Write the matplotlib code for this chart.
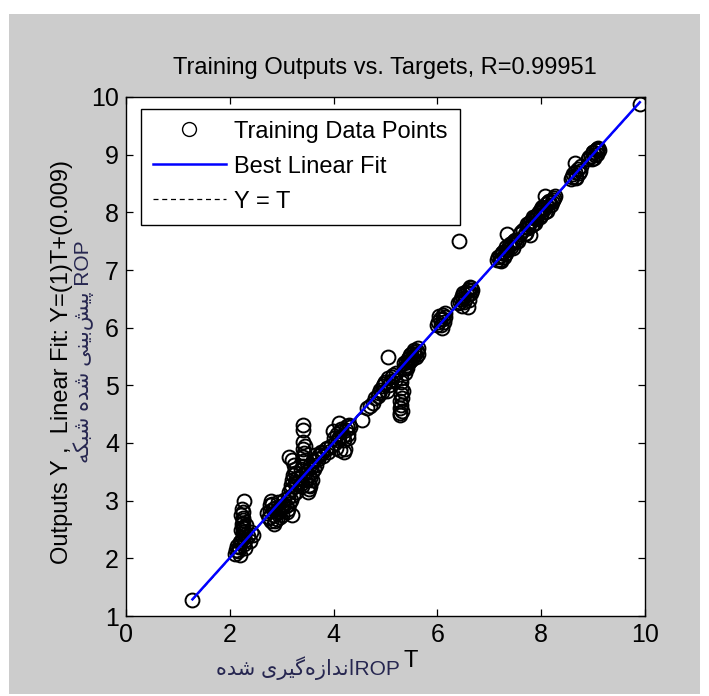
import numpy as np
import matplotlib
matplotlib.use('Agg')
from matplotlib import pyplot as plt
from matplotlib.patches import Rectangle

plt.rcParams['font.family'] = ['Liberation Sans', 'DejaVu Sans']

# training targets (T) and network outputs (Y)
targets = [1.28,
           2.10, 2.12, 2.15, 2.18, 2.20, 2.22, 2.25, 2.25, 2.25, 2.25, 2.25, 2.25, 2.28, 2.28, 2.30, 2.30, 2.35, 2.40, 2.45, 2.27,
           2.22, 2.24, 2.26, 2.22, 2.26, 2.24, 2.20, 2.32, 2.14, 2.38,
           2.75, 2.78, 2.80, 2.82, 2.85, 2.88, 2.90, 2.92, 2.95, 2.98, 3.00, 2.80, 2.85,
           2.72, 2.76, 2.84, 2.87, 2.93, 2.96, 3.02, 3.05, 2.78, 2.90,
           3.10, 3.12, 3.15, 3.18, 3.20, 3.20, 3.22, 3.25, 3.25, 3.28, 3.30, 3.20, 3.15,
           3.08, 3.14, 3.17, 3.22, 3.27, 3.18, 3.24, 3.12, 3.30, 3.26,
           3.40, 3.42, 3.42, 3.42, 3.42, 3.42, 3.42, 3.45, 3.40, 3.38,
           3.41, 3.43, 3.44, 3.36, 3.46, 3.39,
           3.50, 3.52, 3.55, 3.55, 3.58, 3.60, 3.62, 3.65, 3.70, 3.55, 3.75, 3.80, 3.85, 3.90,
           3.48, 3.53, 3.57, 3.63, 3.67, 3.72, 3.78, 3.52, 3.58, 3.88,
           3.98, 4.02, 4.05, 4.10, 4.12, 4.15, 4.20, 4.22, 4.25, 4.28, 4.30, 4.20, 4.10,
           3.95, 4.00, 4.08, 4.14, 4.18, 4.24, 4.27, 4.32, 4.06,
           4.55, 4.65, 4.75, 4.70, 4.80,
           4.85, 4.90, 4.95, 5.00, 5.02, 5.05, 5.10, 5.15, 5.05,
           4.88, 4.93, 4.98, 5.07, 5.12, 5.18, 5.20,
           5.28, 5.28, 5.28, 5.30, 5.30, 5.30, 5.32,
           5.29, 5.31, 5.27, 5.33, 5.30,
           5.35, 5.38, 5.40, 5.42, 5.45, 5.48, 5.50, 5.52, 5.55, 5.58, 5.60, 5.62,
           5.36, 5.41, 5.44, 5.47, 5.51, 5.54, 5.57, 5.63, 5.39, 5.46,
           6.00, 6.05, 6.08, 6.10, 6.12, 6.15,
           6.02, 6.06, 6.11, 6.14, 6.03,
           6.40, 6.45, 6.48, 6.50, 6.55, 6.58, 6.60, 6.62, 6.65, 6.58, 6.42,
           6.43, 6.47, 6.52, 6.56, 6.61, 6.64, 6.67, 6.49,
           7.15, 7.20, 7.22, 7.25, 7.30, 7.32, 7.35, 7.40, 7.45, 7.50, 7.55, 7.35,
           7.17, 7.21, 7.27, 7.33, 7.38, 7.42, 7.47, 7.52, 7.28, 7.44,
           7.60, 7.65, 7.70, 7.72, 7.75, 7.80, 7.82, 7.85, 7.90, 7.95, 8.00, 8.02, 8.05, 8.10, 8.12, 8.15, 8.20, 8.25, 7.78, 8.08,
           7.62, 7.68, 7.74, 7.77, 7.84, 7.87, 7.92, 7.97, 8.03, 8.07, 8.14, 8.18, 8.23, 8.27, 7.88, 8.00,
           8.60, 8.65, 8.68, 8.70, 8.75, 8.65,
           8.58, 8.62, 8.72, 8.77, 8.67,
           8.90, 8.95, 9.00, 9.02, 9.05, 9.08, 9.10,
           8.92, 8.97, 9.04, 9.07, 9.12, 8.99,
           9.90]
outputs = [1.28,
           2.08, 2.15, 2.12, 2.20, 2.05, 2.30, 2.35, 2.45, 2.55, 2.62, 2.70, 2.80, 2.25, 2.40, 2.18, 2.32, 2.38, 2.45, 2.40, 3.00,
           2.50, 2.60, 2.66, 2.75, 2.52, 2.85, 2.28, 2.58, 2.22, 2.30,
           2.70, 2.82, 2.65, 2.95, 2.75, 2.88, 2.68, 2.98, 2.80, 2.90, 2.75, 3.00, 2.60,
           2.78, 2.72, 2.86, 2.64, 2.85, 2.72, 2.90, 3.02, 2.92, 2.82,
           2.80, 3.05, 2.95, 3.20, 3.35, 3.70, 3.10, 3.30, 3.55, 3.25, 3.40, 2.75, 3.75,
           2.90, 3.15, 3.02, 3.45, 3.15, 3.28, 3.62, 2.85, 3.30, 3.48,
           3.45, 3.60, 3.75, 3.90, 4.02, 4.22, 4.32, 3.35, 3.30, 3.55,
           3.68, 3.82, 3.95, 3.40, 3.50, 3.25,
           3.15, 3.28, 3.40, 3.62, 3.50, 3.70, 3.55, 3.80, 3.72, 3.25, 3.85, 3.78, 3.90, 3.85,
           3.38, 3.45, 3.58, 3.68, 3.62, 3.80, 3.82, 3.20, 3.35, 3.92,
           4.20, 4.00, 3.92, 4.10, 3.88, 4.25, 4.05, 3.90, 4.30, 4.15, 4.32, 3.85, 4.35,
           3.95, 4.08, 4.05, 4.20, 4.12, 4.22, 4.08, 4.28, 4.15,
           4.40, 4.60, 4.70, 4.65, 4.78,
           4.82, 4.92, 4.98, 5.05, 4.90, 5.12, 5.08, 5.18, 5.50,
           4.86, 4.88, 5.02, 5.00, 5.15, 5.10, 5.22,
           4.48, 4.60, 4.72, 4.85, 4.95, 5.05, 4.55,
           4.66, 4.78, 4.52, 4.90, 5.12,
           5.30, 5.22, 5.40, 5.35, 5.48, 5.42, 5.55, 5.45, 5.58, 5.50, 5.60, 5.55,
           5.38, 5.30, 5.45, 5.52, 5.48, 5.62, 5.55, 5.65, 5.32, 5.40,
           6.05, 6.15, 6.00, 6.22, 6.10, 6.25,
           6.10, 6.05, 6.15, 6.18, 6.20,
           6.42, 6.50, 6.38, 6.60, 6.52, 6.65, 6.48, 6.70, 6.60, 6.36, 7.50,
           6.45, 6.55, 6.45, 6.62, 6.58, 6.68, 6.66, 6.52,
           7.18, 7.25, 7.15, 7.30, 7.28, 7.40, 7.35, 7.45, 7.38, 7.52, 7.50, 7.62,
           7.22, 7.18, 7.32, 7.30, 7.42, 7.40, 7.50, 7.48, 7.22, 7.46,
           7.62, 7.70, 7.65, 7.80, 7.75, 7.85, 7.78, 7.92, 7.88, 8.00, 7.95, 8.10, 8.05, 8.15, 8.02, 8.20, 8.18, 8.25, 7.60, 8.28,
           7.66, 7.62, 7.72, 7.82, 7.80, 7.90, 7.95, 7.92, 8.08, 8.00, 8.18, 8.12, 8.22, 8.28, 7.82, 8.05,
           8.62, 8.70, 8.60, 8.75, 8.72, 8.85,
           8.58, 8.66, 8.68, 8.80, 8.62,
           8.92, 8.98, 9.05, 8.95, 9.08, 9.02, 9.12,
           8.96, 8.92, 9.00, 9.10, 9.08, 9.05,
           9.88]

slope = 1.0
intercept = 0.009
R = 0.99951

xticks = [0, 2, 4, 6, 8, 10]
yticks = [1, 2, 3, 4, 5, 6, 7, 8, 9, 10]

# persian labels in visual order (presentation forms)
ylabel_fa = '\ufeea\ufb91\ufe92\ufeb7 \ufee9\ufeaa\ufeb7 \ufbfd\ufee8\ufbff\ufe91\ufeb6\ufbff\ufb58 ROP'
xlabel_fa = '\ufee9\ufeaa\ufeb7 \ufbfc\ufeae\ufbff\ufb94\ufee9\ufeaf\ufe8d\ufeaa\ufee7\ufe8dROP'

W, H = 709, 696
fig = plt.figure(figsize=(W / 100, H / 100), dpi=100, facecolor='white')
fig.patches.append(Rectangle((9 / W, 1 - 694 / H), 691 / W, 680 / H,
                             transform=fig.transFigure, facecolor='#cccccc',
                             edgecolor='none', zorder=-10))

ax = fig.add_axes([126 / W, 1 - 616 / H, 519 / W, 519 / H])
ax.set_facecolor('white')

t = np.array(targets)
y = np.array(outputs)
ax.plot(t, y, 'o', mfc='none', mec='black', ms=10, mew=1.4, label='Training Data Points', zorder=3)
tfit = np.array([t.min(), t.max()])
ax.plot(tfit, slope * tfit + intercept, color='#0000ff', lw=1.8, label='Best Linear Fit', zorder=4)
ax.plot(tfit, tfit, color='black', lw=0.9, ls=(0, (4, 3)), label='Y = T', zorder=2)

ax.set_xlim(0, 10)
ax.set_ylim(1, 10)
ax.set_xticks(xticks)
ax.set_yticks(yticks)
ax.tick_params(direction='in', top=True, right=True, length=5, width=0.9,
               labelsize=18, pad=5)
for s in ax.spines.values():
    s.set_linewidth(1.0)

leg = ax.legend(loc='upper left', bbox_to_anchor=(0.029, 0.977), borderaxespad=0,
                fontsize=17, numpoints=1, handlelength=3.1, handletextpad=0.35,
                borderpad=0.5, labelspacing=0.55, fancybox=False, framealpha=1)
leg.get_frame().set_edgecolor('black')
leg.get_frame().set_linewidth(1.0)
leg.legend_handles[0].set_markeredgewidth(1.0)

fig.text(385 / W, 1 - 68 / H, 'Training Outputs vs. Targets, R=%.5f' % R,
         ha='center', va='center', fontsize=17)

fig.text(62 / W, 1 - 362 / H, 'Outputs Y ,  Linear Fit: Y=(1)T+(0.009)',
         rotation=90, ha='center', va='center', fontsize=17)
fig.text(84 / W, 1 - 352 / H, ylabel_fa, rotation=90, ha='center', va='center',
         fontsize=15, color='#262650')

fig.text(400 / W, 1 - 668 / H, xlabel_fa, ha='right', va='center',
         fontsize=15, color='#262650')
fig.text(403 / W, 1 - 661 / H, 'T', ha='left', va='center', fontsize=17)

fig.savefig('out.png', dpi=100, facecolor='white')
